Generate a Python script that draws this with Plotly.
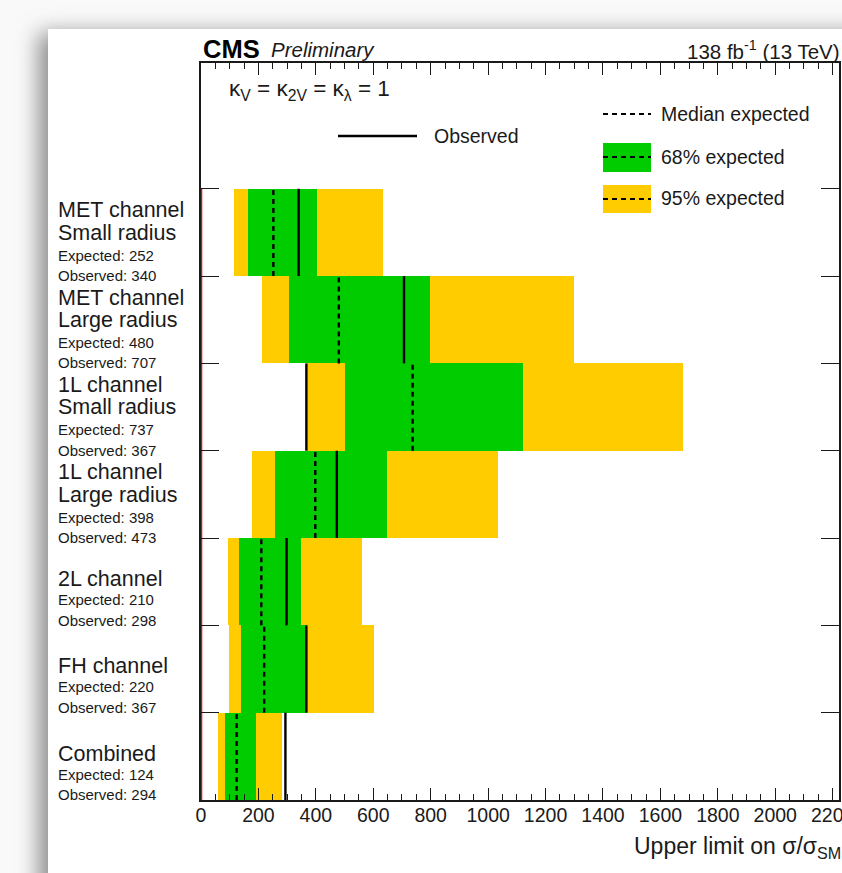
import base64
import plotly.graph_objects as go

# ---- data -------------------------------------------------------------
channel_names = ["MET channel", "MET channel", "1L channel", "1L channel",
                 "2L channel", "FH channel", "Combined"]
channel_sub = ["Small radius", "Large radius", "Small radius", "Large radius",
               "", "", ""]
exp_median = [252, 480, 737, 398, 210, 220, 124]
observed = [340, 707, 367, 473, 298, 367, 294]
lo95 = [116, 211, 370, 179, 93, 99, 59]
lo68 = [165, 305, 502, 257, 133, 138, 84]
hi68 = [403, 798, 1122, 647, 348, 368, 190]
hi95 = [633, 1300, 1679, 1035, 562, 604, 282]

x_range = [0, 2222]
y_top = 8.44

# ---- geometry helpers ---------------------------------------------------
W_FIG, H_FIG = 842, 873
L, R, T, B = 201, 839, 63, 800
PW, PH = R - L, B - T
ROW_PX = PH / y_top


def pxx(x):
    return (x - L) / PW


def pxy(y):
    return (B - y) / PH


FONT = "Liberation Sans, Arial, Helvetica, sans-serif"
INK = "#1a1a1a"
GREEN = "#00cc00"
YELLOW = "#ffcc00"
DASH = "5px,4px"

n = len(exp_median)
ycen = [n - 1 - k + 0.5 for k in range(n)]

fig = go.Figure()

# 95% and 68% bands
fig.add_trace(go.Bar(
    y=ycen, x=[h - l for h, l in zip(hi95, lo95)], base=lo95,
    orientation="h", width=1, marker=dict(color=YELLOW, line=dict(width=0)),
    hoverinfo="skip", showlegend=False))
fig.add_trace(go.Bar(
    y=ycen, x=[h - l for h, l in zip(hi68, lo68)], base=lo68,
    orientation="h", width=1, marker=dict(color=GREEN, line=dict(width=0)),
    hoverinfo="skip", showlegend=False))

# median expected (dashed) and observed (solid) limits
mx, my, ox, oy = [], [], [], []
for k in range(n):
    y0 = n - 1 - k
    mx += [exp_median[k], exp_median[k], None]
    my += [y0, y0 + 1, None]
    ox += [observed[k], observed[k], None]
    oy += [y0, y0 + 1, None]
fig.add_trace(go.Scatter(x=mx, y=my, mode="lines",
                         line=dict(color="black", width=2.4, dash=DASH),
                         hoverinfo="skip", showlegend=False))
fig.add_trace(go.Scatter(x=ox, y=oy, mode="lines",
                         line=dict(color="black", width=2.4),
                         hoverinfo="skip", showlegend=False))

# SM reference line
fig.add_trace(go.Scatter(x=[1, 1], y=[0, n], mode="lines",
                         line=dict(color="#e01010", width=2),
                         hoverinfo="skip", showlegend=False))

annotations = []


def text(x, y, s, size, anchor="left", **kw):
    annotations.append(dict(
        x=pxx(x), y=pxy(y), xref="paper", yref="paper", text=s,
        showarrow=False, xanchor=anchor, yanchor="middle",
        font=dict(family=FONT, size=size, color=INK), **kw))


# row labels
for k in range(n):
    top = n - k
    lines = [(channel_names[k], 21.5)]
    if channel_sub[k]:
        lines.append((channel_sub[k], 21.5))
        offs = [21.5, 44, 66.5, 86.7]
    else:
        offs = [41, 61.5, 82]
    lines.append((f"Expected: {exp_median[k]}", 15))
    lines.append((f"Observed: {observed[k]}", 15))
    for (s, size), off in zip(lines, offs):
        annotations.append(dict(
            x=pxx(56), y=top - off / ROW_PX, xref="paper", yref="y", text=s,
            showarrow=False, xanchor="left", yanchor="middle",
            font=dict(family=FONT, size=size, color=INK)))

# header texts
annotations.append(dict(
    x=pxx(201), y=pxy(49), xref="paper", yref="paper",
    text="<b>CMS</b>", showarrow=False, xanchor="left", yanchor="middle",
    font=dict(family=FONT, size=25.5, color="black")))
annotations.append(dict(
    x=pxx(269), y=pxy(50), xref="paper", yref="paper",
    text="<i>Preliminary</i>", showarrow=False, xanchor="left", yanchor="middle",
    font=dict(family=FONT, size=20.5, color=INK)))
text(842, 50, "138 fb<sup>-1</sup> (13 TeV)", 20.5, anchor="right")
text(227, 90, "κ<sub>V</sub> = κ<sub>2V</sub> = κ<sub>λ</sub> = 1", 22.5)
text(843, 847, "Upper limit on σ/σ<sub>SM</sub>", 23, anchor="right")

# legend
text(432, 136, "Observed", 19.5)
text(659, 114, "Median expected", 19.5)
text(659, 157, "68% expected", 19.5)
text(659, 198, "95% expected", 19.5)

shapes = []
shapes.append(dict(type="line", xref="paper", yref="paper",
                   x0=pxx(338), x1=pxx(417), y0=pxy(136), y1=pxy(136),
                   line=dict(color="black", width=2.4)))
shapes.append(dict(type="rect", xref="paper", yref="paper",
                   x0=pxx(603), x1=pxx(651), y0=pxy(143), y1=pxy(172),
                   fillcolor=GREEN, line=dict(width=0)))
shapes.append(dict(type="rect", xref="paper", yref="paper",
                   x0=pxx(603), x1=pxx(651), y0=pxy(185), y1=pxy(213),
                   fillcolor=YELLOW, line=dict(width=0)))
for yy in (114, 157, 199):
    shapes.append(dict(type="line", xref="paper", yref="paper",
                       x0=pxx(603), x1=pxx(651), y0=pxy(yy), y1=pxy(yy),
                       line=dict(color="black", width=2.2, dash=DASH)))

# page with drop shadow behind the figure
svg = f"""<svg xmlns="http://www.w3.org/2000/svg" width="{W_FIG}" height="{H_FIG}" viewBox="0 0 {W_FIG} {H_FIG}">
<defs><filter id="s" x="-50%" y="-50%" width="200%" height="200%"><feGaussianBlur stdDeviation="11"/></filter></defs>
<rect width="{W_FIG}" height="{H_FIG}" fill="#f9f9f9"/>
<rect x="39" y="33" width="1000" height="1000" fill="#8a8a8a" filter="url(#s)"/>
<rect x="48" y="29" width="1000" height="1000" fill="#ffffff"/>
</svg>"""
uri = "data:image/svg+xml;base64," + base64.b64encode(svg.encode()).decode()

axis_common = dict(showline=True, linecolor=INK, linewidth=1.5, mirror="ticks",
                   ticks="inside", tickcolor=INK, tickwidth=1.3,
                   showgrid=False, zeroline=False, automargin=False)

fig.update_layout(
    width=W_FIG, height=H_FIG, autosize=False,
    margin=dict(l=L, r=W_FIG - R, t=T, b=H_FIG - B, pad=0),
    paper_bgcolor="white", plot_bgcolor="rgba(0,0,0,0)",
    barmode="overlay", bargap=0,
    xaxis=dict(range=x_range, tick0=0, dtick=200, ticklen=12,
               minor=dict(dtick=50, ticklen=6, ticks="inside",
                          tickcolor=INK, tickwidth=1.3, showgrid=False),
               tickfont=dict(family=FONT, size=19.5, color=INK),
               ticklabeloverflow="allow", ticklabelstandoff=-3,
               **axis_common),
    yaxis=dict(range=[0, y_top], tickvals=list(range(1, n + 1)),
               ticklen=18, showticklabels=False, **axis_common),
    annotations=annotations,
    shapes=shapes,
    images=[dict(source=uri, xref="paper", yref="paper",
                 x=pxx(0), y=pxy(0), sizex=W_FIG / PW, sizey=H_FIG / PH,
                 xanchor="left", yanchor="top", sizing="stretch",
                 layer="below")],
    hovermode=False,
)

fig.write_html("out.html")
